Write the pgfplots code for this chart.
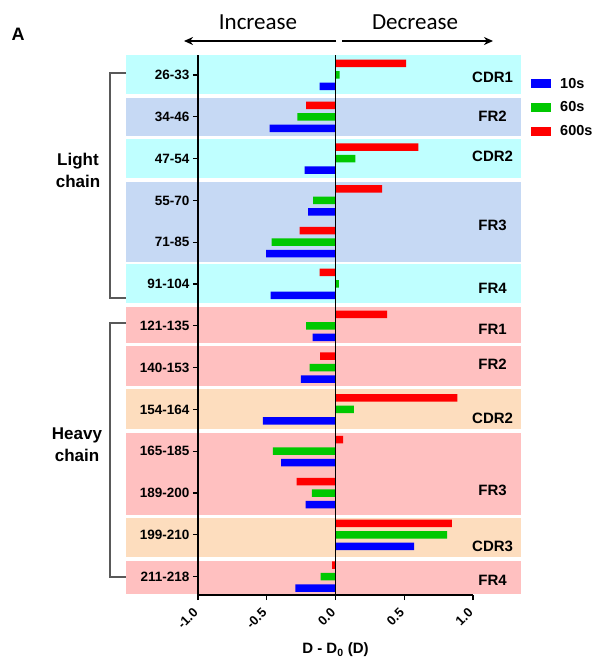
\documentclass[border=0pt]{standalone}
\usepackage{fontspec}
\setmainfont{Liberation Sans}
\newfontfamily\carlito{Carlito}
\usepackage{pgfplots}
\usepackage{pgfplotstable}
\pgfplotsset{compat=1.18}
\usetikzlibrary{arrows.meta}
\definecolor{bcyan}{RGB}{191,255,255}
\definecolor{bblue}{RGB}{198,217,244}
\definecolor{bpink}{RGB}{255,192,192}
\definecolor{bpeach}{RGB}{253,221,190}
\definecolor{sblue}{RGB}{0,0,255}
\definecolor{sgreen}{RGB}{0,200,0}
\definecolor{sred}{RGB}{255,0,0}
\pgfplotstableread{
cat b10 g60 r600
0 -0.116 0.030 0.513
1 -0.479 -0.278 -0.213
2 -0.225 0.145 0.603
3 -0.199 -0.162 0.339
4 -0.504 -0.465 -0.261
5 -0.472 0.024 -0.116
6 -0.167 -0.213 0.375
7 -0.252 -0.189 -0.111
8 -0.528 0.133 0.886
9 -0.395 -0.455 0.056
10 -0.218 -0.172 -0.283
11 0.571 0.811 0.847
12 -0.291 -0.109 -0.024
}\datatable
\begin{document}
\begin{tikzpicture}[x=1pt,y=1pt]
\begin{axis}[
  at={(198pt,62pt)}, anchor=south west,
  scale only axis, width=275pt, height=540pt,
  xmin=-1, xmax=1, ymin=-0.478, ymax=12.44,
  y dir=reverse,
  clip=false,
  axis on top,
  axis x line=bottom, axis y line=left,
  axis line style={-, line width=1.6pt, black},
  xtick={-1,-0.5,0,0.5,1},
  xticklabels={-1.0,-0.5,0.0,0.5,1.0},
  ytick={0,...,12},
  yticklabels={26-33,34-46,47-54,55-70,71-85,91-104,121-135,140-153,154-164,165-185,189-200,199-210,211-218},
  tick align=outside,
  major tick length=5pt,
  tick style={line width=1.3pt, black},
  xticklabel shift=8pt,
  xticklabel style={rotate=45, anchor=east, font=\bfseries\fontsize{13}{15}\selectfont},
  yticklabel style={font=\bfseries\fontsize{13.5}{15}\selectfont},
  xlabel={D - D\textsubscript{0} (D)},
  xlabel style={at={(axis description cs:0.5,-0.102)}, anchor=center, font=\bfseries\fontsize{15}{17}\selectfont},
  xbar, bar width=7.5pt,
  legend style={at={(1.2,0.965)}, anchor=north west, draw=none, fill=none,
    font=\bfseries\fontsize{14.5}{16}\selectfont, row sep=8pt,
    /tikz/every odd column/.append style={column sep=7pt}},
  legend cell align=left,
  legend image code/.code={\fill[#1] (0pt,-4.5pt) rectangle (20pt,4.5pt);},
]
\fill[bcyan] (axis cs:-1.52,-0.478) rectangle (axis cs:1.35,0.45);
\fill[bblue] (axis cs:-1.52,0.55) rectangle (axis cs:1.35,1.46);
\fill[bcyan] (axis cs:-1.52,1.53) rectangle (axis cs:1.35,2.46);
\fill[bblue] (axis cs:-1.52,2.56) rectangle (axis cs:1.35,4.47);
\fill[bcyan] (axis cs:-1.52,4.52) rectangle (axis cs:1.35,5.45);
\fill[bpink] (axis cs:-1.52,5.55) rectangle (axis cs:1.35,6.42);
\fill[bpink] (axis cs:-1.52,6.49) rectangle (axis cs:1.35,7.44);
\fill[bpeach] (axis cs:-1.52,7.5) rectangle (axis cs:1.35,8.47);
\fill[bpink] (axis cs:-1.52,8.56) rectangle (axis cs:1.35,10.53);
\fill[bpeach] (axis cs:-1.52,10.6) rectangle (axis cs:1.35,11.53);
\fill[bpink] (axis cs:-1.52,11.62) rectangle (axis cs:1.35,12.42);
\addplot[fill=sblue, draw=none, bar shift=-11.5pt] table[x=b10,y=cat]{\datatable};
\addplot[fill=sgreen, draw=none, bar shift=0pt] table[x=g60,y=cat]{\datatable};
\addplot[fill=sred, draw=none, bar shift=11.5pt] table[x=r600,y=cat]{\datatable};
\legend{10s,60s,600s}
\draw[line width=1.6pt] (axis cs:0,-0.478) -- (axis cs:0,12.44);
\begin{scope}[font=\bfseries\fontsize{15}{17}\selectfont]
\node at (axis cs:1.143,0.05) {CDR1};
\node at (axis cs:1.143,0.98) {FR2};
\node at (axis cs:1.143,1.94) {CDR2};
\node at (axis cs:1.143,3.59) {FR3};
\node at (axis cs:1.143,5.1) {FR4};
\node at (axis cs:1.143,6.08) {FR1};
\node at (axis cs:1.143,6.92) {FR2};
\node at (axis cs:1.143,8.21) {CDR2};
\node at (axis cs:1.143,9.93) {FR3};
\node at (axis cs:1.143,11.27) {CDR3};
\node at (axis cs:1.143,12.08) {FR4};
\end{scope}
\end{axis}
\node[font=\carlito\fontsize{23}{25}\selectfont] at (258,635) {Increase};
\node[font=\carlito\fontsize{23}{25}\selectfont] at (415,635) {Decrease};
\draw[line width=2pt, -{Stealth[length=9pt,width=8pt]}] (336,616) -- (184,616);
\draw[line width=2pt, -{Stealth[length=9pt,width=8pt]}] (342,616) -- (493,616);
\node[font=\bfseries\fontsize{18}{20}\selectfont] at (18,623) {A};
\draw[black!65, line width=1.2pt] (126,584) -- (110,584) -- (110,359) -- (126,359);
\draw[black!65, line width=1.2pt] (126,334) -- (110,334) -- (110,80) -- (126,80);
\node[font=\bfseries\fontsize{17}{22}\selectfont, align=center] at (78,487) {Light\\chain};
\node[font=\bfseries\fontsize{17}{22}\selectfont, align=center] at (77,212) {Heavy\\chain};
\pgfresetboundingbox
\path[use as bounding box] (0,0) rectangle (595,657);
\end{tikzpicture}
\end{document}
